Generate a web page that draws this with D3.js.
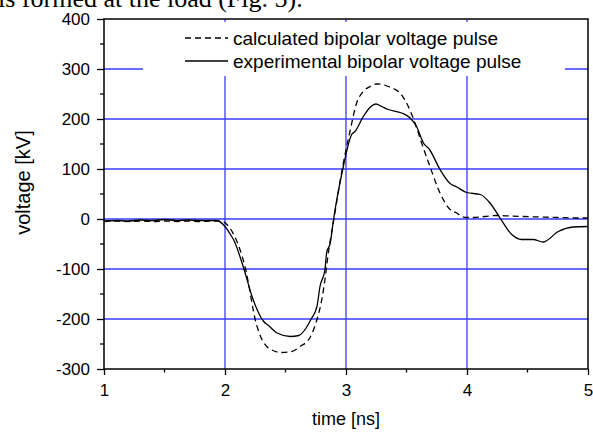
<!DOCTYPE html>
<html><head><meta charset="utf-8">
<script src="https://cdn.jsdelivr.net/npm/d3@7"></script>
<style>body{margin:0;background:#fff}svg{display:block}</style>
</head><body>
<svg id="c" width="593" height="432"></svg>
<script>
const xTicks = [1, 2, 3, 4, 5];
const yTicks = [-300, -200, -100, 0, 100, 200, 300, 400];
const legendLabels = ["calculated bipolar voltage pulse", "experimental bipolar voltage pulse"];
// time [ns], voltage [kV]
const calcT = [1.0,1.1,1.2,1.3,1.4,1.5,1.6,1.7,1.8,1.9,1.97,2.02,2.08,2.165,2.26,2.36,2.468,2.55,2.62,2.70,2.76,2.80,2.826,2.85,2.90,2.978,3.03,3.088,3.143,3.20,3.253,3.30,3.35,3.40,3.446,3.515,3.57,3.625,3.694,3.777,3.86,3.915,3.955,3.997,4.05,4.15,4.245,4.35,4.465,4.6,4.75,4.9,5.0];
const calcV = [-5,-4,-5,-4,-5,-4,-5,-4,-5,-4,-4,-12,-35,-95,-211,-258,-267,-265,-255,-238,-201,-161,-121,-75,0,112,172,232,255,265,270,269,265,260,252,225,192,152,105,52,19,12,5,3,3,5,7,6,5,4,3,2,2];
const expT = [1.0,1.1,1.2,1.3,1.4,1.5,1.6,1.7,1.8,1.876,1.93,2.0,2.055,2.07,2.15,2.232,2.32,2.36,2.43,2.54,2.61,2.67,2.71,2.76,2.785,2.826,2.84,2.87,2.897,2.924,2.978,3.047,3.074,3.143,3.198,3.248,3.295,3.35,3.46,3.53,3.583,3.64,3.69,3.777,3.86,3.915,3.997,4.11,4.19,4.273,4.37,4.45,4.547,4.63,4.754,4.88,5.0];
const expV = [-4,-3,-4,-2,-3,-1,-3,-2,-3,-3,-3,-15,-35,-41,-95,-161,-205,-213,-228,-235,-233,-218,-201,-175,-135,-101,-68,-48,-1,39,105,169,175,205,223,230,225,219,212,202,185,152,139,99,71,64,53,49,32,2,-31,-41,-41,-46,-25,-16,-15];

const svg = d3.select("#c");
const L = 104, R = 588, T = 19, B = 369;
const x = d3.scaleLinear().domain([1, 5]).range([L, R]);
const y = d3.scaleLinear().domain([-300, 400]).range([B, T]);
const font = "'Liberation Sans', Arial, sans-serif";

// caption fragment at top (cut off by the crop of the page)
svg.append("text").attr("x", -2).attr("y", 7).attr("font-family", "'Liberation Serif', 'Times New Roman', serif")
  .attr("font-size", 26).attr("fill", "#000").text("is formed at the load (Fig. 5).");

// grid
const grid = svg.append("g").attr("stroke", "#3a3aff").attr("stroke-width", 1.3);
grid.selectAll("line.h").data(yTicks.filter(d => d > -300 && d < 400)).join("line")
  .attr("x1", L).attr("x2", R).attr("y1", d => y(d)).attr("y2", d => y(d));
grid.selectAll("line.v").data(xTicks.filter(d => d > 1 && d < 5)).join("line")
  .attr("class", "v").attr("y1", T).attr("y2", B).attr("x1", d => x(d)).attr("x2", d => x(d));

// legend background
svg.append("rect").attr("x", 143).attr("y", 22).attr("width", 422).attr("height", 54).attr("fill", "#fff");

// lines
const line = d3.line().x(d => x(d[0])).y(d => y(d[1])).curve(d3.curveMonotoneX);
svg.append("path").datum(calcT.map((t, i) => [t, calcV[i]])).attr("d", line)
  .attr("fill", "none").attr("stroke", "#000").attr("stroke-width", 1.3).attr("stroke-dasharray", "6,4");
svg.append("path").datum(expT.map((t, i) => [t, expV[i]])).attr("d", line)
  .attr("fill", "none").attr("stroke", "#000").attr("stroke-width", 1.3);

// frame
svg.append("rect").attr("x", L).attr("y", T).attr("width", R - L).attr("height", B - T)
  .attr("fill", "none").attr("stroke", "#000").attr("stroke-width", 1.5);

// axes
const xAxis = d3.axisBottom(x).tickValues(xTicks).tickSize(6).tickFormat(d => String(d));
const gx = svg.append("g").attr("transform", `translate(0,${B})`).call(xAxis);
const yAxis = d3.axisLeft(y).tickValues(yTicks).tickSize(7).tickFormat(d => String(d));
const gy = svg.append("g").attr("transform", `translate(${L},0)`).call(yAxis);
[gx, gy].forEach(g => {
  g.select(".domain").remove();
  g.selectAll(".tick line").attr("stroke", "#000").attr("stroke-width", 1.3);
  g.selectAll(".tick text").attr("font-family", font).attr("font-size", 17).attr("fill", "#000");
});
gx.selectAll(".tick text").attr("dy", null).attr("y", 27);
gy.selectAll(".tick text").attr("x", -14);
// minor ticks
const xMinor = d3.range(1.5, 5, 1);
svg.append("g").selectAll("line").data(xMinor).join("line")
  .attr("x1", d => x(d)).attr("x2", d => x(d)).attr("y1", B).attr("y2", B + 3.5)
  .attr("stroke", "#000").attr("stroke-width", 1.3);
const yMinor = d3.range(-250, 400, 100);
svg.append("g").selectAll("line").data(yMinor).join("line")
  .attr("x1", L - 4).attr("x2", L).attr("y1", d => y(d)).attr("y2", d => y(d))
  .attr("stroke", "#000").attr("stroke-width", 1.3);

// legend
const lg = svg.append("g");
legendLabels.forEach((lab, i) => {
  const yy = 38 + i * 23;
  lg.append("line").attr("x1", 185).attr("x2", 228).attr("y1", yy).attr("y2", yy)
    .attr("stroke", "#000").attr("stroke-width", 1.3).attr("stroke-dasharray", i === 0 ? "6,4" : null);
  lg.append("text").attr("x", 233).attr("y", yy + 6.5).attr("font-family", font).attr("font-size", 19)
    .attr("fill", "#000").text(lab);
});

// axis titles
svg.append("text").attr("x", x(3)).attr("y", 425).attr("text-anchor", "middle")
  .attr("font-family", font).attr("font-size", 18).attr("fill", "#000").text("time [ns]");
svg.append("text").attr("transform", `translate(30,182.5) rotate(-90)`).attr("text-anchor", "middle")
  .attr("font-family", font).attr("font-size", 20).attr("fill", "#000").text("voltage [kV]");
</script>
</body></html>
